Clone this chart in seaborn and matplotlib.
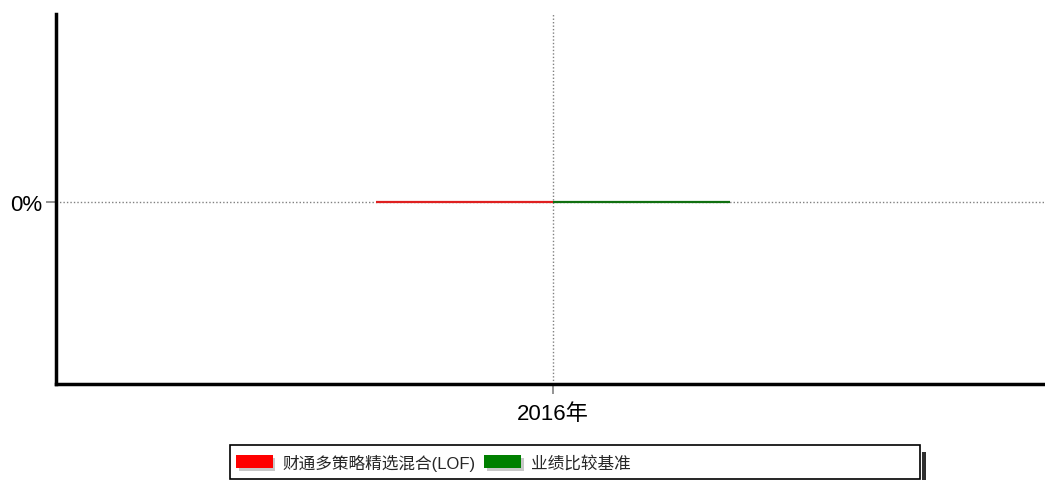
import matplotlib
matplotlib.use("Agg")
import matplotlib.pyplot as plt
import matplotlib.ticker as mticker
import matplotlib.patheffects as pe
from matplotlib.patches import Rectangle, Patch
import seaborn as sns
import pandas as pd

categories = ["2016年"]
series_names = ["财通多策略精选混合(LOF)", "业绩比较基准"]
fund_values = [0.0]
benchmark_values = [0.0]
colors = ["#FF0000", "#008000"]
ytick_values = [0.0]

sns.set_theme(style="white")
plt.rcParams["font.family"] = ["Liberation Sans", "Noto Sans CJK SC", "DejaVu Sans"]
plt.rcParams["xtick.bottom"] = True
plt.rcParams["ytick.left"] = True

rows = []
for c, v in zip(categories, fund_values):
    rows.append({"year": c, "series": series_names[0], "value": v})
for c, v in zip(categories, benchmark_values):
    rows.append({"year": c, "series": series_names[1], "value": v})
df = pd.DataFrame(rows)

fig = plt.figure(figsize=(10.45, 4.81), dpi=100)
ax = fig.add_axes([0.0536, 0.1996, 1.0 - 0.0536, 0.9688 - 0.1996])

sns.barplot(data=df, x="year", y="value", hue="series", hue_order=series_names,
            palette=colors, width=0.358, errorbar=None, ax=ax, legend=False,
            linewidth=1.6, zorder=3)
for p in ax.patches:
    p.set_edgecolor(p.get_facecolor())
    p.set_linewidth(1.6)
    p.set_zorder(3)

ax.set_xlim(-0.5025, 0.4975)
ax.set_ylim(-0.4919, 0.5081)
ax.set_yticks(ytick_values)
ax.yaxis.set_major_formatter(mticker.PercentFormatter(xmax=1.0, decimals=0))
ax.set_xlabel("")
ax.set_ylabel("")

ax.grid(True, axis="both", color="#808080", linestyle=(0, (1, 1.5)), linewidth=1.0, zorder=1)
ax.set_axisbelow(True)

for s in ["top", "right"]:
    ax.spines[s].set_visible(False)
for s in ["left", "bottom"]:
    ax.spines[s].set_color("black")
    ax.spines[s].set_linewidth(2.5)
    ax.spines[s].set_zorder(2.5)

ax.tick_params(axis="both", which="major", direction="out", length=7, width=1.2,
               color="#808080", labelsize=16, labelcolor="black", pad=3,
               left=True, bottom=True)
ax.tick_params(axis="x", pad=7)

handles = [Patch(facecolor=col, edgecolor="none") for col in colors]
leg = fig.legend(handles, series_names, loc="center left",
                 bbox_to_anchor=(236 / 1045, 1 - 463 / 481), frameon=False, ncol=2,
                 fontsize=12, handlelength=2.2, handleheight=0.8, handletextpad=0.6,
                 columnspacing=0.5, borderpad=0.0, borderaxespad=0.0)
for h in leg.get_patches():
    h.set_path_effects([pe.SimplePatchShadow(offset=(2, -2), shadow_rgbFace="#c8c8c8", alpha=1.0),
                        pe.Normal()])

fig.patches.append(Rectangle((230 / 1045, 1 - 480 / 481), 690 / 1045, 34 / 481,
                             transform=fig.transFigure, fill=False,
                             edgecolor="black", linewidth=1.2))
fig.patches.append(Rectangle((922 / 1045, 0.0), 4 / 1045, 28 / 481,
                             transform=fig.transFigure, facecolor="#303030",
                             edgecolor="none"))

fig.savefig("out.png", dpi=100)
